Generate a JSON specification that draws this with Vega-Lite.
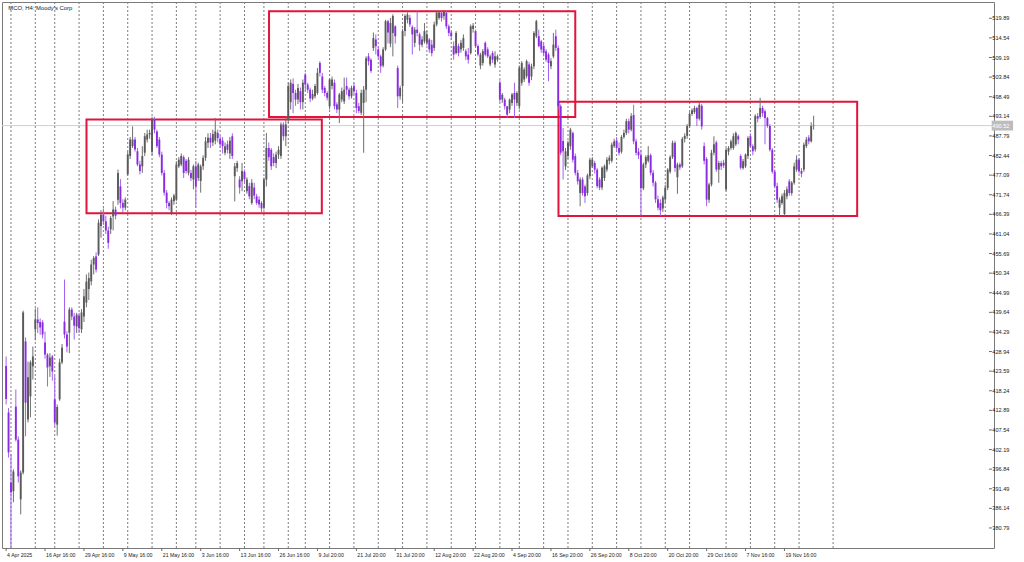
{
"$schema":"https://vega.github.io/schema/vega-lite/v6.json",
"width":992,"height":546,
"autosize":{"type":"none"},
"padding":{"left":2,"top":2,"right":30,"bottom":14},
"background":"white",
"config":{"view":{"stroke":"#7a7a7a","strokeWidth":1}},
"datasets":{
"weeks":[{"i":2},{"i":12},{"i":20},{"i":30},{"i":40},{"i":50},{"i":60},{"i":70},{"i":78},{"i":88},{"i":98},{"i":106},{"i":116},{"i":123},{"i":133},{"i":143},{"i":153},{"i":163},{"i":173},{"i":183},{"i":193},{"i":203},{"i":211},{"i":221},{"i":231},{"i":241},{"i":251},{"i":261},{"i":271},{"i":281},{"i":296},{"i":306},{"i":316},{"i":326},{"i":340}],
"labels":[{"i":0,"t":"4 Apr 2025"},{"i":16,"t":"16 Apr 16:00"},{"i":32,"t":"29 Apr 16:00"},{"i":48,"t":"9 May 16:00"},{"i":64,"t":"21 May 16:00"},{"i":80,"t":"3 Jun 16:00"},{"i":96,"t":"13 Jun 16:00"},{"i":112,"t":"26 Jun 16:00"},{"i":128,"t":"9 Jul 20:00"},{"i":144,"t":"21 Jul 20:00"},{"i":160,"t":"31 Jul 20:00"},{"i":176,"t":"12 Aug 20:00"},{"i":192,"t":"22 Aug 20:00"},{"i":208,"t":"4 Sep 20:00"},{"i":224,"t":"16 Sep 20:00"},{"i":240,"t":"26 Sep 20:00"},{"i":256,"t":"8 Oct 20:00"},{"i":272,"t":"20 Oct 20:00"},{"i":288,"t":"29 Oct 16:00"},{"i":304,"t":"7 Nov 16:00"},{"i":320,"t":"19 Nov 16:00"}],
"yt":[{"v":380.79},{"v":386.14},{"v":391.49},{"v":396.84},{"v":402.19},{"v":407.54},{"v":412.89},{"v":418.24},{"v":423.59},{"v":428.94},{"v":434.29},{"v":439.64},{"v":444.99},{"v":450.34},{"v":455.69},{"v":461.04},{"v":466.39},{"v":471.74},{"v":477.09},{"v":482.44},{"v":487.79},{"v":493.14},{"v":498.49},{"v":503.84},{"v":509.19},{"v":514.54},{"v":519.89}],
"boxes":[{"x1":33.05,"x2":129.8,"p1":492.27,"p2":466.67},{"x1":108.1,"x2":234.0,"p1":521.8,"p2":492.95},{"x1":227.1,"x2":349.9,"p1":497.13,"p2":465.93}],
"last":[{"p":490.6,"t":"490.52"}],
"bars":[
{"i":0,"o":425,"h":427.6,"l":414.5,"c":416},
{"i":1,"o":412.3,"h":413.5,"l":400,"c":401.4},
{"i":2,"o":393.2,"h":401,"l":375.4,"c":390.5},
{"i":3,"o":390.8,"h":396.8,"l":387.8,"c":396.2},
{"i":4,"o":413.9,"h":418.6,"l":404.4,"c":404.9},
{"i":5,"o":404.9,"h":405.8,"l":393.2,"c":394.9},
{"i":6,"o":388.6,"h":396.5,"l":384.5,"c":395.9},
{"i":7,"o":395.9,"h":440.1,"l":395.4,"c":439.6},
{"i":8,"o":431.7,"h":432.8,"l":405.8,"c":415},
{"i":9,"o":410.4,"h":426.2,"l":409.6,"c":421.9},
{"i":10,"o":416.7,"h":426.5,"l":411,"c":426},
{"i":11,"o":424.9,"h":430.3,"l":421.3,"c":427.6},
{"i":12,"o":435,"h":440.7,"l":432,"c":437.7},
{"i":13,"o":437.7,"h":441,"l":434,"c":436.7},
{"i":14,"o":437,"h":438,"l":433.5,"c":435.5},
{"i":15,"o":436.9,"h":437.5,"l":432.5,"c":433.6},
{"i":16,"o":431.4,"h":434.4,"l":427,"c":428.1},
{"i":17,"o":428.1,"h":428.5,"l":419.4,"c":424.6},
{"i":18,"o":424.9,"h":428.5,"l":422,"c":427.3},
{"i":19,"o":427.6,"h":428,"l":421,"c":423.5},
{"i":20,"o":415.9,"h":422.3,"l":408.5,"c":409.6},
{"i":21,"o":409,"h":414.5,"l":406,"c":413.8},
{"i":22,"o":415.9,"h":427,"l":415.5,"c":426},
{"i":23,"o":426,"h":431,"l":425.5,"c":430},
{"i":24,"o":437.1,"h":448.6,"l":432.5,"c":433.6},
{"i":25,"o":433.6,"h":434.5,"l":428.7,"c":430.3},
{"i":26,"o":434.1,"h":441,"l":428.5,"c":440.4},
{"i":27,"o":440.4,"h":441,"l":437.5,"c":438.5},
{"i":28,"o":438.5,"h":439.5,"l":432.2,"c":436},
{"i":29,"o":435.8,"h":439.5,"l":434,"c":439},
{"i":30,"o":438.7,"h":439.5,"l":434,"c":435.3},
{"i":31,"o":435,"h":440.5,"l":434,"c":439.6},
{"i":32,"o":438.5,"h":446,"l":437,"c":444},
{"i":33,"o":442.3,"h":450,"l":441,"c":448},
{"i":34,"o":446,"h":450.5,"l":443,"c":449},
{"i":35,"o":448.1,"h":454,"l":447,"c":452.7},
{"i":36,"o":452.7,"h":455,"l":450,"c":454.5},
{"i":37,"o":454.9,"h":456,"l":450.5,"c":451.3},
{"i":38,"o":455.4,"h":465,"l":455,"c":464.1},
{"i":39,"o":463.2,"h":467.5,"l":460,"c":466.3},
{"i":40,"o":466.3,"h":468,"l":463.5,"c":464.5},
{"i":41,"o":464.5,"h":466,"l":461,"c":462},
{"i":42,"o":462,"h":463,"l":457,"c":458.6},
{"i":43,"o":462.3,"h":466,"l":461,"c":465.4},
{"i":44,"o":465.8,"h":470,"l":462,"c":467.7},
{"i":45,"o":467.7,"h":468.5,"l":465,"c":466},
{"i":46,"o":470.4,"h":478.6,"l":469,"c":477.7},
{"i":47,"o":474,"h":476,"l":468,"c":469.5},
{"i":48,"o":469.5,"h":470.5,"l":467,"c":468.2},
{"i":49,"o":468.2,"h":471,"l":467.5,"c":470.4},
{"i":50,"o":477.3,"h":483.5,"l":477,"c":482.7},
{"i":51,"o":482.3,"h":487.5,"l":481.5,"c":486.8},
{"i":52,"o":485,"h":490.4,"l":484.5,"c":486.8},
{"i":53,"o":486.8,"h":487.5,"l":483.5,"c":484.1},
{"i":54,"o":483.6,"h":484.5,"l":479.5,"c":480},
{"i":55,"o":480,"h":481,"l":477.3,"c":478.2},
{"i":56,"o":479.5,"h":485,"l":477.7,"c":482.3},
{"i":57,"o":483.2,"h":488.6,"l":482.3,"c":487.7},
{"i":58,"o":486.8,"h":489.5,"l":486,"c":488.2},
{"i":59,"o":488.2,"h":489.5,"l":487,"c":488.6},
{"i":60,"o":483.5,"h":493,"l":482.5,"c":492.2},
{"i":61,"o":492.2,"h":493,"l":488.5,"c":489.5},
{"i":62,"o":489,"h":489.5,"l":484.5,"c":485},
{"i":63,"o":486.8,"h":487.5,"l":482,"c":482.7},
{"i":64,"o":482.7,"h":483.5,"l":477,"c":477.7},
{"i":65,"o":477.7,"h":478.5,"l":471.5,"c":472.3},
{"i":66,"o":472.3,"h":473,"l":468,"c":469.5},
{"i":67,"o":469.5,"h":470,"l":467.5,"c":468.6},
{"i":68,"o":466.5,"h":471,"l":466.2,"c":470.4},
{"i":69,"o":470,"h":472,"l":469,"c":471.5},
{"i":70,"o":470.4,"h":480.9,"l":470,"c":480},
{"i":71,"o":479.5,"h":482,"l":479,"c":481.3},
{"i":72,"o":480,"h":483,"l":479.5,"c":482.3},
{"i":73,"o":482,"h":482.5,"l":476.3,"c":477.7},
{"i":74,"o":481,"h":481.5,"l":477.5,"c":478.2},
{"i":75,"o":477.7,"h":482,"l":477,"c":481.3},
{"i":76,"o":477.7,"h":478.5,"l":475.5,"c":476.3},
{"i":77,"o":475.9,"h":480,"l":473.2,"c":479.5},
{"i":78,"o":479.5,"h":481,"l":468.2,"c":474},
{"i":79,"o":476.3,"h":480.5,"l":475.5,"c":480},
{"i":80,"o":475.5,"h":480,"l":472.3,"c":479.5},
{"i":81,"o":479.5,"h":482.5,"l":478.5,"c":481.8},
{"i":82,"o":481.8,"h":487.5,"l":481,"c":486.3},
{"i":83,"o":485.9,"h":488.5,"l":484.5,"c":487.3},
{"i":84,"o":487.3,"h":488.6,"l":484.5,"c":486},
{"i":85,"o":486,"h":489.5,"l":485,"c":488.3},
{"i":86,"o":486.5,"h":492.7,"l":485.5,"c":489},
{"i":87,"o":488.6,"h":489.5,"l":486,"c":487.2},
{"i":88,"o":487,"h":487.8,"l":484.5,"c":485.5},
{"i":89,"o":486.5,"h":487.5,"l":483,"c":485},
{"i":90,"o":483.2,"h":486,"l":482.5,"c":485},
{"i":91,"o":485.5,"h":486.5,"l":483,"c":484},
{"i":92,"o":483,"h":487.5,"l":481.5,"c":486.5},
{"i":93,"o":487.7,"h":488.5,"l":481.5,"c":482.3},
{"i":94,"o":476.8,"h":480.4,"l":469.9,"c":479.5},
{"i":95,"o":479,"h":481,"l":478,"c":480.4},
{"i":96,"o":475.9,"h":476.8,"l":472,"c":473.7},
{"i":97,"o":475.4,"h":480.4,"l":472.7,"c":478.2},
{"i":98,"o":478,"h":478.6,"l":475,"c":476},
{"i":99,"o":472.7,"h":476.5,"l":472,"c":475.9},
{"i":100,"o":474.1,"h":475,"l":470.5,"c":471.3},
{"i":101,"o":469.5,"h":476,"l":469,"c":475},
{"i":102,"o":473.7,"h":475,"l":470.5,"c":471.5},
{"i":103,"o":471.3,"h":472,"l":469,"c":469.5},
{"i":104,"o":470.4,"h":471.3,"l":468.2,"c":469.1},
{"i":105,"o":469.5,"h":470,"l":466.8,"c":468},
{"i":106,"o":468.2,"h":476.4,"l":467.7,"c":475.9},
{"i":107,"o":475.9,"h":488.6,"l":474,"c":484.5},
{"i":108,"o":484.5,"h":486,"l":481,"c":482},
{"i":109,"o":484,"h":484.5,"l":478.5,"c":479.5},
{"i":110,"o":482,"h":483,"l":479.5,"c":480.4},
{"i":111,"o":480.4,"h":483.5,"l":479,"c":482.7},
{"i":112,"o":482.7,"h":485,"l":481.5,"c":484},
{"i":113,"o":482.3,"h":491.5,"l":481.5,"c":490.9},
{"i":114,"o":490.9,"h":491.5,"l":486.5,"c":487.7},
{"i":115,"o":487.7,"h":493.2,"l":485,"c":490.9},
{"i":116,"o":492.3,"h":502.3,"l":491.3,"c":501.4},
{"i":117,"o":497,"h":503.2,"l":495,"c":502.3},
{"i":118,"o":502,"h":503.5,"l":494,"c":499.5},
{"i":119,"o":499.5,"h":500.4,"l":496,"c":497.7},
{"i":120,"o":497.7,"h":502,"l":496.5,"c":500.9},
{"i":121,"o":500,"h":501,"l":495,"c":497},
{"i":122,"o":497,"h":503.2,"l":495,"c":502.3},
{"i":123,"o":504.5,"h":505,"l":500,"c":501.8},
{"i":124,"o":501.8,"h":502.3,"l":499.5,"c":500.4},
{"i":125,"o":500.4,"h":501,"l":497,"c":498},
{"i":126,"o":498,"h":500.4,"l":497.5,"c":499.2},
{"i":127,"o":498.6,"h":502,"l":498,"c":501.4},
{"i":128,"o":499.5,"h":506.3,"l":499,"c":505},
{"i":129,"o":507.7,"h":508.2,"l":504,"c":505},
{"i":130,"o":504,"h":505,"l":499.5,"c":500.4},
{"i":131,"o":500.9,"h":501.4,"l":498.6,"c":499.5},
{"i":132,"o":499.5,"h":500,"l":497.5,"c":498.2},
{"i":133,"o":495.9,"h":503.5,"l":495,"c":503.2},
{"i":134,"o":501.4,"h":504,"l":500.5,"c":503.2},
{"i":135,"o":502.3,"h":503.2,"l":495,"c":495.9},
{"i":136,"o":496.4,"h":497,"l":494,"c":495},
{"i":137,"o":495,"h":499.5,"l":491.3,"c":499.1},
{"i":138,"o":497.7,"h":501,"l":497,"c":500},
{"i":139,"o":497.2,"h":503.7,"l":496.5,"c":500.4},
{"i":140,"o":501.4,"h":503.7,"l":499,"c":500.4},
{"i":141,"o":500.4,"h":501,"l":497.7,"c":498.6},
{"i":142,"o":498.6,"h":501.5,"l":498,"c":500.9},
{"i":143,"o":501.4,"h":502.3,"l":499,"c":500},
{"i":144,"o":499.5,"h":500.4,"l":494,"c":495.4},
{"i":145,"o":495.9,"h":496.8,"l":494,"c":494.6},
{"i":146,"o":494.1,"h":500.4,"l":493.5,"c":499.5},
{"i":147,"o":496.8,"h":501.4,"l":483.2,"c":500.4},
{"i":148,"o":500.4,"h":509.5,"l":497,"c":509},
{"i":149,"o":509.5,"h":510.4,"l":507,"c":508.2},
{"i":150,"o":508.6,"h":509,"l":505,"c":505.5},
{"i":151,"o":511.8,"h":516,"l":511,"c":514.5},
{"i":152,"o":514.1,"h":515.5,"l":510,"c":512.3},
{"i":153,"o":511.4,"h":512.3,"l":509,"c":509.5},
{"i":154,"o":509.5,"h":510,"l":505,"c":506.8},
{"i":155,"o":507,"h":512,"l":506.5,"c":511.4},
{"i":156,"o":511.4,"h":519.5,"l":511,"c":519.1},
{"i":157,"o":519.1,"h":519.5,"l":513,"c":516},
{"i":158,"o":513,"h":520,"l":512,"c":518.6},
{"i":159,"o":515.9,"h":521,"l":509.5,"c":520.5},
{"i":160,"o":517.7,"h":518,"l":513,"c":515},
{"i":161,"o":506.3,"h":507,"l":495.4,"c":498.6},
{"i":162,"o":498.6,"h":501.5,"l":497.7,"c":500.9},
{"i":163,"o":501.4,"h":517,"l":497,"c":516.4},
{"i":164,"o":516.4,"h":521,"l":515,"c":520.5},
{"i":165,"o":519.5,"h":521.5,"l":518.5,"c":520.9},
{"i":166,"o":520,"h":520.8,"l":517.5,"c":518.2},
{"i":167,"o":517.5,"h":518,"l":510,"c":515.5},
{"i":168,"o":513.2,"h":517.5,"l":512,"c":516.8},
{"i":169,"o":516.8,"h":521.8,"l":515,"c":515.9},
{"i":170,"o":515.5,"h":516,"l":511,"c":512.7},
{"i":171,"o":512.7,"h":515,"l":512,"c":514.1},
{"i":172,"o":513.6,"h":518.6,"l":513,"c":516.4},
{"i":173,"o":513.2,"h":516.5,"l":512.5,"c":515.5},
{"i":174,"o":514.1,"h":514.5,"l":510.5,"c":511.4},
{"i":175,"o":512.7,"h":514,"l":509.5,"c":510.4},
{"i":176,"o":511.8,"h":519,"l":511,"c":518.2},
{"i":177,"o":518.2,"h":521.6,"l":517.7,"c":521.4},
{"i":178,"o":520,"h":521.8,"l":519.5,"c":521.5},
{"i":179,"o":521.4,"h":521.8,"l":519,"c":520},
{"i":180,"o":520.5,"h":522,"l":519.5,"c":521.7},
{"i":181,"o":521.4,"h":521.8,"l":517,"c":517.7},
{"i":182,"o":517.7,"h":518.2,"l":515,"c":515.9},
{"i":183,"o":516,"h":516.4,"l":514,"c":515},
{"i":184,"o":512.3,"h":513.6,"l":508.6,"c":510},
{"i":185,"o":510.4,"h":516.4,"l":510,"c":515.9},
{"i":186,"o":512.3,"h":513,"l":509.5,"c":510.4},
{"i":187,"o":511.4,"h":514,"l":510.5,"c":513.2},
{"i":188,"o":511.8,"h":515.5,"l":511,"c":514.5},
{"i":189,"o":510.9,"h":511.5,"l":508.5,"c":509.5},
{"i":190,"o":510,"h":511.8,"l":507.5,"c":508.6},
{"i":191,"o":510.4,"h":518.2,"l":510,"c":517.7},
{"i":192,"o":517,"h":518.6,"l":516,"c":517.9},
{"i":193,"o":516.4,"h":516.8,"l":511.8,"c":512.3},
{"i":194,"o":512.3,"h":512.8,"l":509.5,"c":510},
{"i":195,"o":507,"h":510.5,"l":506,"c":510},
{"i":196,"o":507.7,"h":511.5,"l":507,"c":510.9},
{"i":197,"o":513.2,"h":513.6,"l":509.5,"c":510},
{"i":198,"o":511.4,"h":512,"l":509,"c":509.5},
{"i":199,"o":507.3,"h":510,"l":506.8,"c":509.5},
{"i":200,"o":510.4,"h":511,"l":507.7,"c":508.6},
{"i":201,"o":507.3,"h":510.9,"l":506.4,"c":509.5},
{"i":202,"o":508.6,"h":510,"l":508,"c":509.5},
{"i":203,"o":502.3,"h":503,"l":497,"c":497.7},
{"i":204,"o":497.7,"h":499.5,"l":496.8,"c":499},
{"i":205,"o":497.7,"h":498.2,"l":495,"c":495.9},
{"i":206,"o":495.9,"h":496,"l":492.7,"c":493.6},
{"i":207,"o":495,"h":498,"l":494,"c":497.7},
{"i":208,"o":496.8,"h":499.5,"l":496,"c":499.1},
{"i":209,"o":499.5,"h":502.3,"l":492.7,"c":497.7},
{"i":210,"o":496.8,"h":500,"l":496,"c":499.5},
{"i":211,"o":495.9,"h":507,"l":495,"c":506.4},
{"i":212,"o":502.3,"h":508.2,"l":501.5,"c":507.7},
{"i":213,"o":503.2,"h":506.5,"l":502.5,"c":505.9},
{"i":214,"o":504.1,"h":508.6,"l":503.5,"c":508.2},
{"i":215,"o":507.3,"h":508,"l":501.5,"c":502.3},
{"i":216,"o":504,"h":507.5,"l":503,"c":506.8},
{"i":217,"o":506.8,"h":516.4,"l":506,"c":515.9},
{"i":218,"o":515,"h":519.5,"l":514.5,"c":519.1},
{"i":219,"o":515,"h":516.8,"l":512,"c":512.3},
{"i":220,"o":513.6,"h":514,"l":510.5,"c":511.4},
{"i":221,"o":512.3,"h":513,"l":509.5,"c":510.4},
{"i":222,"o":510.9,"h":511.5,"l":508,"c":508.6},
{"i":223,"o":510,"h":510.5,"l":502.7,"c":507.7},
{"i":224,"o":506.8,"h":509,"l":506,"c":508.2},
{"i":225,"o":509.5,"h":515.9,"l":509,"c":512.7},
{"i":226,"o":515,"h":516.8,"l":511,"c":511.8},
{"i":227,"o":511.8,"h":512.5,"l":495,"c":495.9},
{"i":228,"o":495.9,"h":496.4,"l":482.5,"c":483.2},
{"i":229,"o":486.4,"h":490,"l":475.9,"c":483.6},
{"i":230,"o":479.5,"h":484.5,"l":478.5,"c":483.6},
{"i":231,"o":482.3,"h":486.5,"l":481.5,"c":485.9},
{"i":232,"o":485,"h":490,"l":484,"c":489.5},
{"i":233,"o":488.6,"h":489,"l":480.5,"c":481.3},
{"i":234,"o":482.3,"h":483,"l":477,"c":477.7},
{"i":235,"o":477.7,"h":478.5,"l":474.5,"c":475.4},
{"i":236,"o":472.2,"h":476.5,"l":468.6,"c":475.9},
{"i":237,"o":475.9,"h":476.5,"l":471.5,"c":472.2},
{"i":238,"o":474,"h":474.5,"l":469.5,"c":471.3},
{"i":239,"o":472.2,"h":477.5,"l":471.5,"c":477},
{"i":240,"o":476.8,"h":481.8,"l":476,"c":481.3},
{"i":241,"o":479.5,"h":482,"l":479,"c":481.3},
{"i":242,"o":480.4,"h":481,"l":477.5,"c":478.6},
{"i":243,"o":478.6,"h":479,"l":473.5,"c":474.1},
{"i":244,"o":475.9,"h":476.5,"l":473,"c":473.7},
{"i":245,"o":473.7,"h":479.5,"l":473,"c":479.1},
{"i":246,"o":476.3,"h":480,"l":475.5,"c":479.5},
{"i":247,"o":478.6,"h":482,"l":478,"c":481.3},
{"i":248,"o":481,"h":482.5,"l":480,"c":481.8},
{"i":249,"o":481,"h":486,"l":480.5,"c":485.4},
{"i":250,"o":485,"h":487,"l":484.5,"c":486.3},
{"i":251,"o":486.5,"h":487.5,"l":484,"c":484.5},
{"i":252,"o":484.5,"h":486,"l":482.5,"c":483.2},
{"i":253,"o":483.5,"h":488,"l":483,"c":487.5},
{"i":254,"o":487.5,"h":489.5,"l":487,"c":488.6},
{"i":255,"o":488.6,"h":492.5,"l":488,"c":491.8},
{"i":256,"o":491.8,"h":492.5,"l":488.5,"c":489.5},
{"i":257,"o":489.5,"h":494,"l":489,"c":493.2},
{"i":258,"o":493.5,"h":496.3,"l":485.5,"c":486.3},
{"i":259,"o":486.3,"h":487,"l":482.5,"c":483.2},
{"i":260,"o":483.5,"h":484.5,"l":481.5,"c":482.5},
{"i":261,"o":482.5,"h":484,"l":466,"c":473.5},
{"i":262,"o":473.5,"h":480.5,"l":473,"c":480},
{"i":263,"o":480,"h":482.5,"l":479,"c":482},
{"i":264,"o":481,"h":485,"l":480.5,"c":482.5},
{"i":265,"o":482.5,"h":483,"l":477,"c":477.7},
{"i":266,"o":477.7,"h":478.5,"l":474,"c":475},
{"i":267,"o":475,"h":475.5,"l":469.5,"c":470.5},
{"i":268,"o":470.5,"h":471.5,"l":467.5,"c":468.2},
{"i":269,"o":469.5,"h":470.5,"l":465.9,"c":467.5},
{"i":270,"o":468,"h":471.5,"l":467,"c":471},
{"i":271,"o":470.5,"h":474.5,"l":469.5,"c":473.6},
{"i":272,"o":473.6,"h":479,"l":473,"c":478.6},
{"i":273,"o":478,"h":482.5,"l":477.5,"c":482},
{"i":274,"o":482,"h":486.5,"l":481.5,"c":485.9},
{"i":275,"o":485.9,"h":486.5,"l":478,"c":479},
{"i":276,"o":476.5,"h":480.5,"l":472,"c":480},
{"i":277,"o":480,"h":480.5,"l":478.5,"c":479.2},
{"i":278,"o":479.5,"h":487.5,"l":479,"c":487},
{"i":279,"o":487,"h":488.5,"l":486,"c":487.8},
{"i":280,"o":487.8,"h":491,"l":487,"c":490.5},
{"i":281,"o":490.5,"h":494.3,"l":490,"c":493.8},
{"i":282,"o":493.8,"h":495.3,"l":493.3,"c":494.8},
{"i":283,"o":494.3,"h":496,"l":493.8,"c":495.4},
{"i":284,"o":495.4,"h":495.8,"l":490.5,"c":492.5},
{"i":285,"o":492.5,"h":497,"l":492,"c":496.3},
{"i":286,"o":496,"h":496.5,"l":489.5,"c":490.4},
{"i":287,"o":485,"h":486,"l":480,"c":481},
{"i":288,"o":481.5,"h":482,"l":468.6,"c":470.4},
{"i":289,"o":470.4,"h":475,"l":469.5,"c":474.5},
{"i":290,"o":474.5,"h":484,"l":474,"c":483.2},
{"i":291,"o":483.2,"h":487.7,"l":482.5,"c":485.5},
{"i":292,"o":486,"h":486.5,"l":478,"c":478.6},
{"i":293,"o":478.6,"h":481,"l":475,"c":480.4},
{"i":294,"o":480.4,"h":481,"l":478.5,"c":479.5},
{"i":295,"o":480.5,"h":481.3,"l":479,"c":479.7},
{"i":296,"o":473.2,"h":484.5,"l":472.7,"c":484},
{"i":297,"o":483.5,"h":485,"l":482.5,"c":484.5},
{"i":298,"o":484.5,"h":486.8,"l":484,"c":486.3},
{"i":299,"o":484.5,"h":488.5,"l":484,"c":487.7},
{"i":300,"o":485.5,"h":489,"l":485,"c":488.6},
{"i":301,"o":487.7,"h":488.2,"l":485.5,"c":486.8},
{"i":302,"o":482.3,"h":482.8,"l":478.6,"c":479.1},
{"i":303,"o":479,"h":481.5,"l":478.6,"c":480.9},
{"i":304,"o":479.5,"h":483,"l":479,"c":482.7},
{"i":305,"o":482.3,"h":487.7,"l":481.5,"c":487.2},
{"i":306,"o":487.7,"h":488.5,"l":484.5,"c":485},
{"i":307,"o":485,"h":485.5,"l":482.5,"c":483.6},
{"i":308,"o":484.1,"h":493.7,"l":483.5,"c":493.2},
{"i":309,"o":493.2,"h":494,"l":491.5,"c":492.5},
{"i":310,"o":493,"h":498.2,"l":492.5,"c":495.4},
{"i":311,"o":495.4,"h":496,"l":493,"c":494},
{"i":312,"o":494.5,"h":495,"l":485.5,"c":492.7},
{"i":313,"o":492.7,"h":493,"l":490,"c":490.5},
{"i":314,"o":490.5,"h":491,"l":483.5,"c":484},
{"i":315,"o":484,"h":484.5,"l":477.5,"c":478},
{"i":316,"o":478,"h":478.6,"l":473.5,"c":474.1},
{"i":317,"o":474.1,"h":475,"l":469.5,"c":470.4},
{"i":318,"o":468.2,"h":471,"l":465.9,"c":470.4},
{"i":319,"o":469.5,"h":472,"l":469,"c":471.3},
{"i":320,"o":466.5,"h":473,"l":465.9,"c":472.2},
{"i":321,"o":471.3,"h":474,"l":470.5,"c":473.2},
{"i":322,"o":475.4,"h":476,"l":471.5,"c":472.2},
{"i":323,"o":472.2,"h":475.5,"l":471.5,"c":475},
{"i":324,"o":475,"h":480.5,"l":474.5,"c":479.5},
{"i":325,"o":478.6,"h":482.5,"l":478,"c":481.3},
{"i":326,"o":481.3,"h":481.8,"l":477.5,"c":478.2},
{"i":327,"o":478.2,"h":479,"l":476.5,"c":477.5},
{"i":328,"o":478.6,"h":486,"l":478,"c":485.4},
{"i":329,"o":485,"h":487.5,"l":484.5,"c":486.8},
{"i":330,"o":487.3,"h":488,"l":485.5,"c":486.3},
{"i":331,"o":486.3,"h":491.5,"l":486,"c":490.5},
{"i":332,"o":490.5,"h":493.3,"l":489.5,"c":490.6}
]},
"layer":[
{"data":{"name":"weeks"},"mark":{"type":"rule","stroke":"#7d7d7d","strokeWidth":1,"strokeDash":[2,2]},
 "encoding":{"x":{"field":"i","type":"quantitative","scale":{"domain":[0.366,404.1],"nice":false,"zero":false},"axis":null}}},
{"data":{"name":"last"},"mark":{"type":"rule","stroke":"#cfcfcf","strokeWidth":1},
 "encoding":{"y":{"field":"p","type":"quantitative","scale":{"domain":[375.32,524.34],"nice":false,"zero":false},"axis":null}}},
{"data":{"name":"boxes"},"mark":{"type":"rect","filled":false,"stroke":"#e0143c","strokeWidth":2},
 "encoding":{"x":{"field":"x1","type":"quantitative","scale":{"domain":[0.366,404.1],"nice":false,"zero":false},"axis":null},"x2":{"field":"x2"},
  "y":{"field":"p1","type":"quantitative","scale":{"domain":[375.32,524.34],"nice":false,"zero":false},"axis":null},"y2":{"field":"p2"}}},
{"data":{"name":"bars"},"mark":{"type":"rule","strokeWidth":1},
 "encoding":{"x":{"field":"i","type":"quantitative","scale":{"domain":[0.366,404.1],"nice":false,"zero":false},"axis":null},
  "y":{"field":"l","type":"quantitative","scale":{"domain":[375.32,524.34],"nice":false,"zero":false},"axis":null},
  "y2":{"field":"h"},
  "color":{"condition":{"test":"datum.c >= datum.o","value":"#6e6e6e"},"value":"#a261ee"}}},
{"data":{"name":"bars"},"mark":{"type":"bar","width":1.9},
 "encoding":{"x":{"field":"i","type":"quantitative","scale":{"domain":[0.366,404.1],"nice":false,"zero":false},"axis":null},
  "y":{"field":"o","type":"quantitative","scale":{"domain":[375.32,524.34],"nice":false,"zero":false},"axis":null},
  "y2":{"field":"c"},
  "color":{"condition":{"test":"datum.c >= datum.o","value":"#5a5a5a"},"value":"#8a2be2"}}},
{"data":{"name":"yt"},"mark":{"type":"rule","stroke":"#6a6a6a","strokeWidth":1},
 "encoding":{"x":{"datum":404.1,"type":"quantitative","scale":{"domain":[0.366,404.1],"nice":false,"zero":false},"axis":null},"x2":{"datum":405.3},
  "y":{"field":"v","type":"quantitative","scale":{"domain":[375.32,524.34],"nice":false,"zero":false},"axis":null}}},
{"data":{"name":"yt"},"mark":{"type":"text","align":"left","baseline":"middle","fontSize":5.6,"font":"Liberation Sans","fill":"#1a1a1a"},
 "encoding":{"x":{"datum":405.45,"type":"quantitative","scale":{"domain":[0.366,404.1],"nice":false,"zero":false},"axis":null},
  "y":{"field":"v","type":"quantitative","scale":{"domain":[375.32,524.34],"nice":false,"zero":false},"axis":null},
  "text":{"field":"v","type":"quantitative","format":".2f"}}},
{"data":{"name":"labels"},"mark":{"type":"rule","stroke":"#6a6a6a","strokeWidth":1},
 "encoding":{"x":{"field":"i","type":"quantitative","scale":{"domain":[0.366,404.1],"nice":false,"zero":false},"axis":null},
  "y":{"datum":375.32,"type":"quantitative","scale":{"domain":[375.32,524.34],"nice":false,"zero":false},"axis":null},"y2":{"datum":374.5}}},
{"data":{"name":"labels"},"mark":{"type":"text","align":"left","baseline":"middle","dx":1,"dy":7,"fontSize":5.2,"font":"Liberation Sans","fill":"#1a1a1a"},
 "encoding":{"x":{"field":"i","type":"quantitative","scale":{"domain":[0.366,404.1],"nice":false,"zero":false},"axis":null},
  "y":{"datum":375.32,"type":"quantitative","scale":{"domain":[375.32,524.34],"nice":false,"zero":false},"axis":null},
  "text":{"field":"t"}}},
{"data":{"values":[{"t":"MCO, H4: Moody's Corp"}]},"mark":{"type":"text","align":"left","baseline":"middle","fontSize":5.9,"font":"Liberation Sans","fill":"#1a1a1a"},
 "encoding":{"x":{"datum":0.9,"type":"quantitative","scale":{"domain":[0.366,404.1],"nice":false,"zero":false},"axis":null},
  "y":{"datum":522.6,"type":"quantitative","scale":{"domain":[375.32,524.34],"nice":false,"zero":false},"axis":null},
  "text":{"field":"t"}}},
{"data":{"name":"last"},"mark":{"type":"rect","fill":"#bdbdbd"},
 "encoding":{"x":{"datum":405.2,"type":"quantitative","scale":{"domain":[0.366,404.1],"nice":false,"zero":false},"axis":null},"x2":{"datum":414.0},
  "y":{"datum":489.25,"type":"quantitative","scale":{"domain":[375.32,524.34],"nice":false,"zero":false},"axis":null},"y2":{"datum":491.95}}},
{"data":{"name":"last"},"mark":{"type":"text","align":"left","baseline":"middle","fontSize":5.6,"font":"Liberation Sans","fill":"#ffffff"},
 "encoding":{"x":{"datum":405.45,"type":"quantitative","scale":{"domain":[0.366,404.1],"nice":false,"zero":false},"axis":null},
  "y":{"field":"p","type":"quantitative","scale":{"domain":[375.32,524.34],"nice":false,"zero":false},"axis":null},
  "text":{"field":"t"}}}
]
}
